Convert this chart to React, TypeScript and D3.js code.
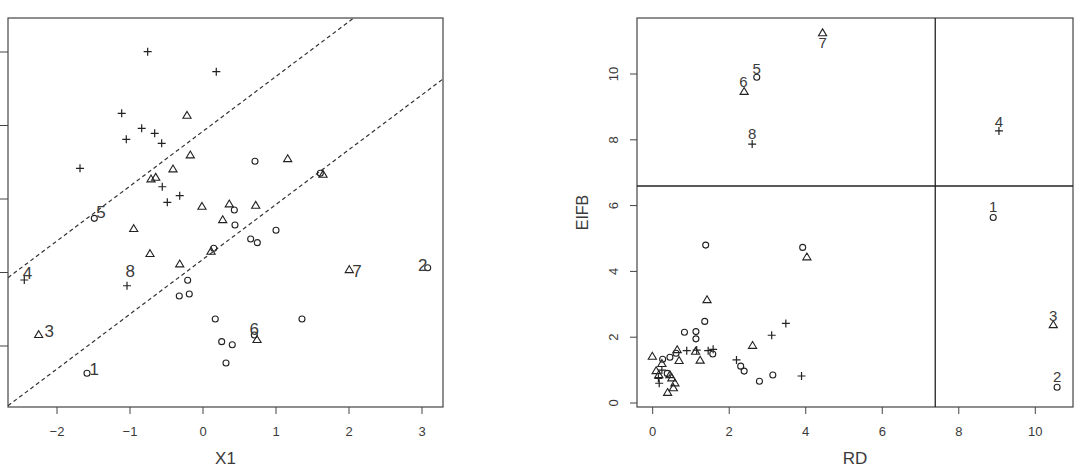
import React from "react";
import * as d3 from "d3";

// ---------- Left panel data (X1 vs unlabeled Y) ----------
const leftPlus: [number, number][] = [
  [-0.758, 2.004], [0.182, 1.732], [-1.114, 1.166], [-0.84, 0.962], [-0.662, 0.894],
  [-1.051, 0.812], [-0.566, 0.758], [-1.685, 0.418], [-0.558, 0.167], [-0.319, 0.045],
  [-0.489, -0.045], [-1.041, -1.18], [-2.448, -1.102],
];
const leftTri: [number, number][] = [
  [-0.219, 1.133], [-0.174, 0.595], [-0.411, 0.404], [-0.712, 0.268], [-0.648, 0.29],
  [1.16, 0.544], [1.644, 0.331], [-0.014, -0.105], [0.36, -0.072], [0.722, -0.091],
  [0.27, -0.286], [-0.949, -0.408], [-0.726, -0.748], [-0.319, -0.888], [0.11, -0.717],
  [2.004, -0.966], [-2.251, -1.85], [0.74, -1.918],
];
const leftCirc: [number, number][] = [
  [1.607, 0.35], [0.429, -0.15], [0.712, 0.513], [-1.489, -0.263], [0.438, -0.354],
  [1.0, -0.426], [0.147, -0.671], [0.653, -0.544], [0.744, -0.594], [-0.21, -1.106],
  [-0.325, -1.32], [-0.188, -1.293], [3.078, -0.935], [-1.589, -2.371], [0.168, -1.633],
  [1.356, -1.633], [0.256, -1.941], [0.401, -1.982], [0.703, -1.85], [0.315, -2.231],
];
const leftLabels: [string, number, number][] = [
  ["5", -1.397, -0.19], ["7", 2.11, -0.993], ["2", 3.01, -0.898], ["3", -2.105, -1.805],
  ["1", -1.489, -2.313], ["6", 0.703, -1.782], ["4", -2.405, -1.011], ["8", -0.996, -0.989],
];
const leftXTicks = [-2, -1, 0, 1, 2, 3];
const leftYTicks = [-2, -1, 0, 1, 2];
const leftLineSlope = 0.746;
const leftLineIntercepts = [0.922, -0.82];

// ---------- Right panel data (RD vs EIFB) ----------
const rightTri: [number, number][] = [
  [4.44, 11.24], [2.39, 9.46], [10.47, 2.37],
  [1.42, 3.13], [4.03, 4.43], [2.61, 1.74], [0.69, 1.28], [1.24, 1.29], [1.12, 1.56],
  [-0.01, 1.41], [0.24, 1.19], [0.64, 1.61], [0.09, 0.97], [0.16, 0.85], [0.45, 0.85],
  [0.5, 0.75], [0.58, 0.6], [0.54, 0.45], [0.39, 0.31],
];
const rightCirc: [number, number][] = [
  [2.72, 9.9], [8.9, 5.64], [10.57, 0.48],
  [1.385, 4.8], [3.92, 4.73], [1.36, 2.48], [0.83, 2.15], [1.13, 2.17], [1.13, 1.95],
  [1.57, 1.49], [0.45, 1.39], [0.26, 1.33], [0.61, 1.51], [2.3, 1.12], [2.39, 0.97],
  [2.79, 0.66], [3.14, 0.85], [0.38, 0.9],
];
const rightPlus: [number, number][] = [
  [2.6, 7.87], [9.05, 8.27],
  [3.48, 2.42], [3.11, 2.06], [0.89, 1.59], [1.15, 1.61], [1.45, 1.59], [1.58, 1.63],
  [2.19, 1.31], [3.89, 0.82], [0.15, 0.75], [0.17, 0.6], [0.24, 1.0],
];
const rightLabels: [string, number, number][] = [
  ["7", 4.44, 10.95], ["5", 2.72, 10.17], ["6", 2.37, 9.77], ["8", 2.6, 8.2],
  ["4", 9.05, 8.55], ["1", 8.9, 5.97], ["3", 10.47, 2.67], ["2", 10.57, 0.8],
];
const rightXTicks = [0, 2, 4, 6, 8, 10];
const rightYTicks = [0, 2, 4, 6, 8, 10];
const rightVLine = 7.385;
const rightHLine = 6.596;

const INK = "#222";
const TXT = "#3a3a3a";
const FONT = "'Liberation Sans', Arial, Helvetica, sans-serif";
const fmt = d3.format("d");

function Marker({ kind, x, y }: { kind: string; x: number; y: number }) {
  if (kind === "circle") return <circle cx={x} cy={y} r={3} fill="none" stroke={INK} strokeWidth={1.1} />;
  if (kind === "tri") {
    const s = 4.3;
    const p = d3.path();
    p.moveTo(x, y - s);
    p.lineTo(x + s * 0.95, y + s * 0.6);
    p.lineTo(x - s * 0.95, y + s * 0.6);
    p.closePath();
    return <path d={p.toString()} fill="none" stroke={INK} strokeWidth={1.1} />;
  }
  return (
    <path d={`M${x - 4},${y}H${x + 4}M${x},${y - 4}V${y + 4}`} stroke={INK} strokeWidth={1.2} fill="none" />
  );
}

export default function App() {
  // Left panel geometry
  const L = { x0: 8, x1: 443, y0: 18, y1: 407 };
  const lx = d3.scaleLinear().domain([-2, 3]).range([57, 422]);
  const ly = d3.scaleLinear().domain([-2, 2]).range([346, 52]);
  const lxDom = [lx.invert(L.x0), lx.invert(L.x1)];

  // Right panel geometry
  const R = { x0: 637, x1: 1073, y0: 18, y1: 407 };
  const rx = d3.scaleLinear().domain([0, 10]).range([652.7, 1035.3]);
  const ry = d3.scaleLinear().domain([0, 10]).range([403, 74]);

  const leftLine = (a: number) => {
    let xa = lxDom[0], xb = lxDom[1];
    const yTop = ly.invert(L.y0), yBot = ly.invert(L.y1);
    const xAtTop = (yTop - a) / leftLineSlope;
    const xAtBot = (yBot - a) / leftLineSlope;
    xa = Math.max(xa, xAtBot);
    xb = Math.min(xb, xAtTop);
    return { x1: lx(xa), y1: ly(a + leftLineSlope * xa), x2: lx(xb), y2: ly(a + leftLineSlope * xb) };
  };

  return (
    <svg width={1080} height={468} style={{ position: "absolute", left: 0, top: 0, background: "#fff" }} fontFamily={FONT}>
      <rect x={0} y={0} width={1080} height={468} fill="#fff" />
      {/* ---------- LEFT PANEL ---------- */}
      <defs>
        <clipPath id="lclip">
          <rect x={L.x0} y={L.y0} width={L.x1 - L.x0} height={L.y1 - L.y0} />
        </clipPath>
      </defs>
      <rect x={L.x0} y={L.y0} width={L.x1 - L.x0} height={L.y1 - L.y0} fill="none" stroke="#444" strokeWidth={1.2} />
      {leftXTicks.map((t) => (
        <g key={"lxt" + t}>
          <line x1={lx(t)} x2={lx(t)} y1={L.y1} y2={L.y1 + 7} stroke="#444" />
          <text x={lx(t)} y={436} textAnchor="middle" fontSize={13} fill={TXT}>{d3.format("")(t).replace("-", "−")}</text>
        </g>
      ))}
      {leftYTicks.map((t) => (
        <line key={"lyt" + t} x1={L.x0 - 8} x2={L.x0} y1={ly(t)} y2={ly(t)} stroke="#444" />
      ))}
      <text x={(L.x0 + L.x1) / 2} y={464} textAnchor="middle" fontSize={17} fill={TXT}>X1</text>
      <g clipPath="url(#lclip)">
        {leftLineIntercepts.map((a, i) => {
          const s = leftLine(a);
          return <line key={"dl" + i} {...s} stroke="#333" strokeWidth={1.2} strokeDasharray="4,3" />;
        })}
      </g>
      {leftCirc.map(([x, y], i) => <Marker key={"lc" + i} kind="circle" x={lx(x)} y={ly(y)} />)}
      {leftTri.map(([x, y], i) => <Marker key={"lt" + i} kind="tri" x={lx(x)} y={ly(y)} />)}
      {leftPlus.map(([x, y], i) => <Marker key={"lp" + i} kind="plus" x={lx(x)} y={ly(y)} />)}
      {leftLabels.map(([s, x, y]) => (
        <text key={"ll" + s} x={lx(x)} y={ly(y)} textAnchor="middle" dominantBaseline="central" fontSize={17} fill={TXT}>{s}</text>
      ))}

      {/* ---------- RIGHT PANEL ---------- */}
      <rect x={R.x0} y={R.y0} width={R.x1 - R.x0} height={R.y1 - R.y0} fill="none" stroke="#444" strokeWidth={1.2} />
      {rightXTicks.map((t) => (
        <g key={"rxt" + t}>
          <line x1={rx(t)} x2={rx(t)} y1={R.y1} y2={R.y1 + 7} stroke="#444" />
          <text x={rx(t)} y={436} textAnchor="middle" fontSize={13} fill={TXT}>{fmt(t)}</text>
        </g>
      ))}
      {rightYTicks.map((t) => (
        <g key={"ryt" + t}>
          <line x1={R.x0 - 7} x2={R.x0} y1={ry(t)} y2={ry(t)} stroke="#444" />
          <text transform={`translate(618,${ry(t)}) rotate(-90)`} textAnchor="middle" fontSize={13} fill={TXT}>{fmt(t)}</text>
        </g>
      ))}
      <text x={(R.x0 + R.x1) / 2} y={464} textAnchor="middle" fontSize={17} fill={TXT}>RD</text>
      <text transform={`translate(588,${(R.y0 + R.y1) / 2}) rotate(-90)`} textAnchor="middle" fontSize={16} fill={TXT}>EIFB</text>
      <line x1={rx(rightVLine)} x2={rx(rightVLine)} y1={R.y0} y2={R.y1} stroke="#222" strokeWidth={1.3} />
      <line x1={R.x0} x2={R.x1} y1={ry(rightHLine)} y2={ry(rightHLine)} stroke="#222" strokeWidth={1.3} />
      {rightCirc.map(([x, y], i) => <Marker key={"rc" + i} kind="circle" x={rx(x)} y={ry(y)} />)}
      {rightTri.map(([x, y], i) => <Marker key={"rt" + i} kind="tri" x={rx(x)} y={ry(y)} />)}
      {rightPlus.map(([x, y], i) => <Marker key={"rp" + i} kind="plus" x={rx(x)} y={ry(y)} />)}
      {rightLabels.map(([s, x, y]) => (
        <text key={"rl" + s} x={rx(x)} y={ry(y)} textAnchor="middle" dominantBaseline="central" fontSize={15} fill={TXT}>{s}</text>
      ))}
    </svg>
  );
}
